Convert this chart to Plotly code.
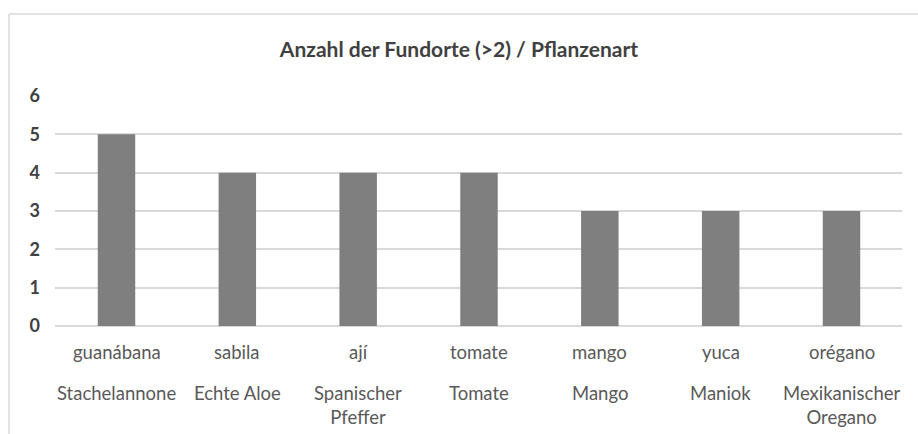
import plotly.graph_objects as go

# Spanish plant names, their German names and number of sites (>2)
spanish_names = ["guanábana", "sabila", "ají", "tomate", "mango", "yuca", "orégano"]
german_names = ["Stachelannone", "Echte Aloe", "Spanischer<br>Pfeffer", "Tomate",
                "Mango", "Maniok", "Mexikanischer<br>Oregano"]
site_counts = [5, 4, 4, 4, 3, 3, 3]
y_ticks = [0, 1, 2, 3, 4, 5, 6]

FONT = "Lato, Open Sans, sans-serif"
GRID = "#d9d9d9"
LABEL_SIZE = 18.5

fig = go.Figure(
    go.Bar(
        x=spanish_names,
        y=site_counts,
        marker=dict(color="#7f7f7f", line=dict(width=0)),
        hoverinfo="x+y",
    )
)

# category labels: Spanish name row, German name row below
annotations = []
for sp, de in zip(spanish_names, german_names):
    annotations.append(dict(
        x=sp, y=0, xref="x", yref="paper", text=sp, showarrow=False,
        yanchor="middle", yshift=-26,
        font=dict(family=FONT, size=LABEL_SIZE, color="#595959"),
    ))
    annotations.append(dict(
        x=sp, y=0, xref="x", yref="paper", text=de, showarrow=False,
        yanchor="top", yshift=-54, align="center",
        font=dict(family=FONT, size=LABEL_SIZE, color="#595959"),
    ))

fig.update_layout(
    width=918, height=434,
    margin=dict(l=55, r=16, t=96, b=108),
    paper_bgcolor="white", plot_bgcolor="white",
    bargap=0.69,
    showlegend=False,
    title=dict(
        text="<b>Anzahl der Fundorte (>2) / Pflanzenart</b>",
        x=0.5, xanchor="center", xref="container",
        y=1 - 50 / 434, yanchor="middle", yref="container",
        font=dict(family=FONT, size=21, color="#404040"),
    ),
    xaxis=dict(
        showticklabels=False, showgrid=False, zeroline=False,
        showline=False, ticks="",
    ),
    yaxis=dict(
        range=[0, 6], tickvals=y_ticks,
        ticktext=[f"<b>{v}</b>" for v in y_ticks],
        showgrid=True, gridcolor=GRID, gridwidth=1.5,
        zeroline=True, zerolinecolor=GRID, zerolinewidth=1.5,
        showline=False, ticks="", ticklabelstandoff=14,
        tickfont=dict(family=FONT, size=18, color="#404040"),
    ),
    annotations=annotations,
    shapes=[
        # chart frame (top and left edges)
        dict(type="line", xref="paper", yref="paper",
             x0=(9 - 55) / 847, x1=1.1, y0=(326 - 14) / 230, y1=(326 - 14) / 230,
             line=dict(color=GRID, width=1.5)),
        dict(type="line", xref="paper", yref="paper",
             x0=(9 - 55) / 847, x1=(9 - 55) / 847, y0=(326 - 14) / 230, y1=-0.6,
             line=dict(color=GRID, width=1.5)),
    ],
)

fig.write_html("out.html")
